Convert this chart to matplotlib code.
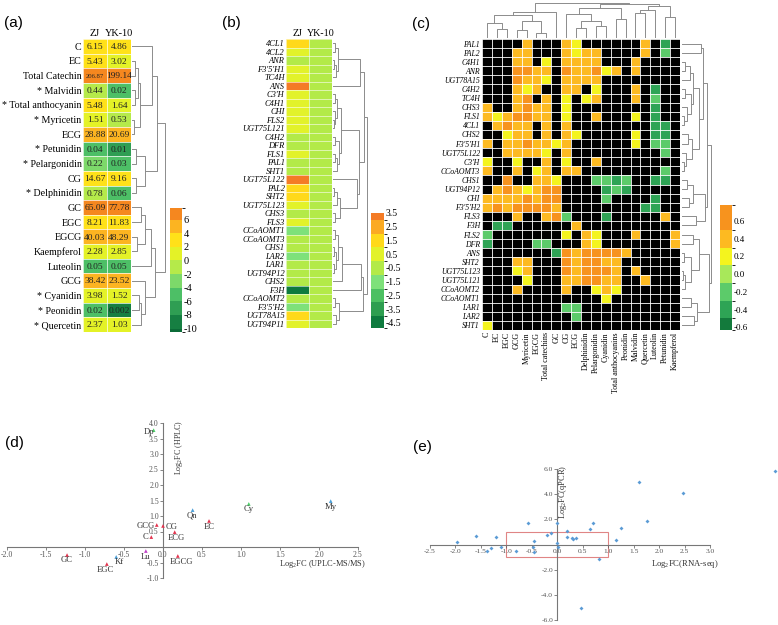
import numpy as np
import matplotlib
matplotlib.use('Agg')
import matplotlib.pyplot as plt
from matplotlib.colors import ListedColormap, BoundaryNorm
from matplotlib.cm import ScalarMappable
from matplotlib.patches import Rectangle

W, H = 778, 625
plt.rcParams['font.family'] = ['Liberation Serif', 'DejaVu Serif']
plt.rcParams['mathtext.fontset'] = 'custom'
plt.rcParams['mathtext.rm'] = 'Liberation Serif'
plt.rcParams['mathtext.it'] = 'Liberation Serif:italic'
plt.rcParams['axes.unicode_minus'] = False

# ---------------- data: panel (a)
a_rows = ['C', 'EC', 'Total Catechin', '* Malvidin', '* Total anthocyanin', '* Myricetin', 'ECG',
          '* Petunidin', '* Pelargonidin', 'CG', '* Delphinidin', 'GC', 'EGC', 'EGCG', 'Kaempferol',
          'Luteolin', 'GCG', '* Cyanidin', '* Peonidin', '* Quercetin']
a_cols = ['ZJ', 'YK-10']
a_zj = [6.15, 5.43, 206.87, 0.44, 5.48, 1.51, 28.88, 0.04, 0.22, 14.67, 0.78, 65.09, 8.21, 40.03,
        2.28, 0.05, 38.42, 3.98, 0.02, 2.37]
a_yk = [4.86, 3.02, 199.14, 0.02, 1.64, 0.53, 20.69, 0.01, 0.03, 9.16, 0.06, 77.78, 11.83, 48.29,
        2.85, 0.05, 23.52, 1.52, 0.002, 1.03]
a_bounds = [-10.5, -10, -8, -6, -4, -2, 0, 2, 4, 6, 7.7]
a_colors = ['#0B6B37', '#167F42', '#2F9E53', '#4DBF66', '#7DD96A', '#B5EA4A', '#E4F227',
            '#FFE119', '#FCB421', '#F5871F']
a_ticks = [6, 4, 2, 0, -2, -4, -6, -8, -10]
tree_a = (34,
          (26, (21, 0, (9, (7, (4, 1, 2), (4, 3, 4)), (3, 5, 6))), (14, (5, 7, 8), (5, 9, 10))),
          (24, (20, (14, (10, 11, 12), (6, 13, 14)), 15), (14, 16, (10, (8, 17, 18), 19))))

# ---------------- data: panel (b)
b_rows = ['4CL1', '4CL2', 'ANR', "F3'5'H1", 'TC4H', 'ANS', "C3'H", 'C4H1', 'CHI', 'FLS2', 'UGT75L121',
          'C4H2', 'DFR', 'FLS1', 'PAL1', 'SHT1', 'UGT75L122', 'PAL2', 'SHT2', 'UGT75L123', 'CHS3', 'FLS3',
          'CCoAOMT1', 'CCoAOMT3', 'CHS1', 'LAR2', 'LAR1', 'UGT94P12', 'CHS2', 'F3H', 'CCoAOMT2',
          "F3'5'H2", 'UGT78A15', 'UGT94P11']
b_cols = ['ZJ', 'YK-10']
b_zj = [1.5, 0.5, -0.5, 0.7, 0.5, 3.3, 0.8, 0.5, 0.6, 0.5, 0.6, -0.3, -0.3, 0.6, -0.2, -0.2, 3.3,
        1.5, 1.5, 0.6, -0.3, 0.6, -1.5, -0.4, -0.4, -1.5, -0.5, -0.4, -0.4, -4.5, -0.5, -1.5, 1.5, 0.5]
b_yk = [-0.4] * 34
b_bounds = [-4.87, -4, -3, -2, -1, 0, 1, 2, 3, 3.5]
b_colors = ['#0E7A3E', '#2E9E50', '#4CC062', '#7EE17A', '#B3EA48', '#E2F22A', '#FFD91A',
            '#FBAA22', '#F47B26']
b_ticks = [3.5, 2.5, 1.5, 0.5, -0.5, -1.5, -2.5, -3.5, -4.5]
tree_b = (34,
          (31, (27, (6, (3, 0, 1), (4, (2, 2, 3), 4)), 5),
           (26, (9, (5, (3, 6, 7), (3, 8, (2, 9, 10))), (7, (3, 11, 12), (5, (3, 13, 14), 15))),
            (24, 16, (8, (5, (2, 17, 18), 19), (3, 20, 21))))),
          (30, (28, (10, (6, (3, 22, 23), (4, (2, 24, 25), (2, 26, 27))), 28), 29),
           (7, (3, 30, 31), (4, 32, 33))))

# ---------------- data: panel (c)  (K = not significant / black)
c_rows = ['PAL1', 'PAL2', 'C4H1', 'ANR', 'UGT78A15', 'C4H2', 'TC4H', 'CHS3', 'FLS1', '4CL1', 'CHS2',
          "F3'5'H1", 'UGT75L122', "C3'H", 'CCoAOMT3', 'CHS1', 'UGT94P12', 'CHI', "F3'5'H2", 'FLS3', 'F3H',
          'FLS2', 'DFR', 'ANS', 'SHT2', 'UGT75L123', 'UGT75L121', 'CCoAOMT2', 'CCoAOMT1', 'LAR1', 'LAR2',
          'SHT1']
c_cols = ['C', 'EC', 'EGC', 'GCG', 'Myricetin', 'EGCG', 'Total catechins', 'GC', 'CG', 'ECG',
          'Delphinidin', 'Pelargonidin', 'Cyanidin', 'Total anthocyanins', 'Peonidin', 'Malvidin',
          'Quercetin', 'Luteolin', 'Petunidin', 'Kaempferol']
c_levels = {'K': np.nan, 'O': 0.65, 'o': 0.4, 'y': 0.2, 'g': -0.2, 'G': -0.4, 'D': -0.6}
c_codes = ["KKKKoKKKoyKKKKKKoKGK", "KKKooKKKoyooKKKKoKgK", "KKKooKyKooooKKKoKKKK",
           "KKKOOooKOooOyoKoKKKK", "KKKOooyKooooKKKKKKKK", "KKKoyoKKooKyKKKoKGKK",
           "KKKoOKoKyKyoKKKoKgKK", "oKKoOooKyKKKKKKKKGKK", "oyoOOooKyKKoKKKyKGKK",
           "KoOooKoKoKKKKKKKKGGK", "KKyooKoKoyKKKKKyKGGK", "oKooOooyoKKKKKKyKggK",
           "KKooooyKoKKKKKKKKKgK", "yKKyKKoKyKKoKKKKKKKK", "oKKoKyoKooKKKKKKKKgK",
           "KKOKKooyKKKggGgKKGGK", "KoOoyoOOKKKKGgGKKKKK", "ooooOoOOKKKKgKKKKGKK",
           "oOoOOOOoKKKKKKKKGGKK", "KKKoKKoOgKKKGKKKKKoK", "KGGKKKKKKoKKKKKKKKKK",
           "gKKKKKKKyKoyKKKoKKKo", "GKKKKggKKKoyKKKKKKKo", "KKKKKKKGOoOOOOoKKKKK",
           "KKKooKKKOoOOooKKKKKK", "KKKyoKKKOoOOOoKoKKKK", "KKKKyKKKooOOooKKoKKK",
           "KKKoKKKKoKKyoyKKKKKK", "KKKKKKKKKKKKyKKKKKKK", "KKKKKKKKggKKKKKKKKKK",
           "KKKKKKKKKgKKKKKKKKKK", "yKKKKKKKKKKKKKKKKKKK"]
c_bounds = [-0.63, -0.5, -0.3, -0.1, 0.1, 0.3, 0.5, 0.78]
c_colors = ['#137A3C', '#2EA455', '#5CCB6A', '#A8E85A', '#F4F41E', '#FDBA21', '#F7931E']
c_ticks = [0.6, 0.4, 0.2, 0.0, -0.2, -0.4, -0.6]
tree_c_cols = (36, (27, (24, (15, 0, (9, 1, 2)), (17, (8, 3, 4), (5, 5, 6))), 7),
               (35, (31, (25, 8, (17, (10, 9, 10), (12, 11, 12))), (20, 13, 14)),
                (33, (29, (26, 15, 16), 17), (22, 18, 19))))
tree_c_rows = (30,
               (26, (22, (20, 0, 1), (18, (12, (9, (4, 2, 3), 4), (10, (4, 5, 6), (6, 7, (3, 8, 9)))),
                                      (11, (7, 10, 11), (5, 12, (3, 13, 14))))),
                (24, (12, (6, 15, 16), (8, 17, 18)), (15, 19, 20))),
               (28, (18, (12, 21, 22), (10, (3, 23, 24), (4, (2, 25, 26), 27))),
                (16, (10, 28, 29), (13, 30, 31))))

# ---------------- data: panel (d)
d_labels = ['Dp', 'My', 'Cy', 'Qn', 'EC', 'GCG', 'CG', 'ECG', 'C', 'EGCG', 'Lu', 'Kf', 'EGC', 'GC']
d_x = [-0.12, 2.15, 1.10, 0.38, 0.59, -0.08, 0.0, 0.15, -0.15, 0.19, -0.22, -0.60, -0.72, -1.23]
d_y = [3.77, 1.48, 1.39, 1.19, 0.84, 0.71, 0.68, 0.48, 0.32, -0.29, -0.13, -0.32, -0.55, -0.26]
d_group = ['anth', 'flav', 'anth', 'flav', 'cat', 'cat', 'cat', 'cat', 'cat', 'cat', 'lut', 'flav',
           'cat', 'cat']
d_group_color = {'anth': '#4CD068', 'flav': '#4A9FD8', 'cat': '#E3334E', 'lut': '#C040C8'}
d_label_off = [(-5, 2), (0, 6), (0, 5), (-1, 5), (0, 6), (-11, 1), (9, 1), (2, 6), (-6, 0),
               (4, 6), (0, 6), (3, 5), (-1, 6), (0, 5)]

# ---------------- data: panel (e)
e_x = [-1.96, -1.60, -1.38, -1.30, -1.20, -1.11, -0.81, -0.58, -0.45, -0.45, -0.48, -0.20, -0.12,
       0.0, 0.0, 0.01, 0.20, 0.20, 0.29, 0.31, 0.37, 0.65, 0.70, 0.81, 1.16, 1.26, 1.60, 1.76, 2.47,
       0.47, 4.28]
e_y = [0.18, 0.71, -0.53, -0.29, 0.58, -0.21, -0.53, 1.69, -0.61, 0.26, -0.21, 0.77, 0.90, 1.69,
       0.10, -0.21, 1.06, 0.63, 0.50, 0.45, 0.53, 1.24, 1.69, -1.14, 0.32, 1.29, 4.94, 1.90, 4.13,
       -5.02, 5.87]

# ======================================================================
fig = plt.figure(figsize=(W / 100, H / 100), dpi=100)
fig.patch.set_facecolor('white')


def pax(x0, y0, x1, y1):
    return fig.add_axes([x0 / W, 1 - y1 / H, (x1 - x0) / W, (y1 - y0) / H])


def ftext(px, py, s, **kw):
    fig.text(px / W, 1 - py / H, s, **kw)


def draw_dendro(ax, node, orient, color='#8c8c8c', lw=0.7, base=1.0):
    def rec(n):
        if isinstance(n, int):
            return n + 0.5, base
        h, l, r = n
        pl, hl = rec(l)
        pr, hr = rec(r)
        if orient == 'right':
            ax.plot([hl, h, h, hr], [pl, pl, pr, pr], color=color, lw=lw)
        else:
            ax.plot([pl, pl, pr, pr], [hl, h, h, hr], color=color, lw=lw)
        return (pl + pr) / 2, h
    rec(node)
    ax.axis('off')


def make_cbar(cax, bounds, colors, ticks, fs, fmt):
    cmap = ListedColormap(colors)
    norm = BoundaryNorm(bounds, cmap.N)
    cb = fig.colorbar(ScalarMappable(norm=norm, cmap=cmap), cax=cax, boundaries=bounds,
                      spacing='proportional', ticks=ticks)
    cb.outline.set_visible(False)
    cb.set_ticklabels([fmt(t) for t in ticks])
    cax.tick_params(length=0, labelsize=fs, pad=1)
    cax.set_ylim(bounds[0], bounds[-1])
    return cmap, norm


def grid_white(ax, nc, nr, lw=0.5):
    ax.set_xticks(np.arange(nc + 1), minor=True)
    ax.set_yticks(np.arange(nr + 1), minor=True)
    ax.grid(which='minor', color='white', lw=lw)
    ax.tick_params(which='minor', length=0)
    ax.set_axisbelow(False)
    for s in ax.spines.values():
        s.set_visible(False)


def cross_axes(ax, xt, yt, fs):
    for s in ['top', 'right']:
        ax.spines[s].set_visible(False)
    ax.spines['left'].set_position(('data', 0))
    ax.spines['bottom'].set_position(('data', 0))
    for s in ['left', 'bottom']:
        ax.spines[s].set_color('#777777')
        ax.spines[s].set_linewidth(0.8)
    ax.set_xticks(xt, [f'{v:.1f}' for v in xt])
    ax.set_yticks(yt, [f'{v:.1f}' for v in yt])
    ax.tick_params(labelsize=fs, length=2, width=0.5, pad=1, colors='#555555')
    ax.set_facecolor('none')


# ---------------- panel (a)
ftext(4, 23, '(a)', fontsize=11, family='Liberation Sans', va='center')
cmap_a, norm_a = make_cbar(pax(170, 208, 182, 332), a_bounds, a_colors, a_ticks, 7.5,
                           lambda t: f'{t:d}')
ax = pax(83, 39, 131, 332)
vals_a = np.column_stack([a_zj, a_yk])
ax.pcolormesh(np.arange(3), np.arange(len(a_rows) + 1), np.log2(vals_a), cmap=cmap_a, norm=norm_a)
ax.set_xlim(0, 2)
ax.set_ylim(len(a_rows), 0)
grid_white(ax, 2, len(a_rows))
for i in range(len(a_rows)):
    for j in range(2):
        v = vals_a[i, j]
        ax.text(j + 0.5, i + 0.55, str(v), ha='center', va='center',
                fontsize=4.8 if v > 200 else 6.8, color='#222222')
ax.set_yticks(np.arange(len(a_rows)) + 0.5, a_rows, fontsize=7.2)
ax.xaxis.tick_top()
ax.set_xticks([0.5, 1.5], a_cols, fontsize=7.4)
ax.tick_params(length=0, pad=1)
axd = pax(131, 39, 166, 332)
draw_dendro(axd, tree_a, 'right')
axd.set_ylim(len(a_rows), 0)
axd.set_xlim(0, 35)

# ---------------- panel (b)
ftext(222, 23, '(b)', fontsize=11, family='Liberation Sans', va='center')
cmap_b, norm_b = make_cbar(pax(371, 213, 384, 328), b_bounds, b_colors, b_ticks, 7,
                           lambda t: f'{t:.1f}')
ax = pax(286, 39, 332, 328)
vals_b = np.column_stack([b_zj, b_yk])
ax.pcolormesh(np.arange(3), np.arange(len(b_rows) + 1), vals_b, cmap=cmap_b, norm=norm_b)
ax.set_xlim(0, 2)
ax.set_ylim(len(b_rows), 0)
grid_white(ax, 2, len(b_rows), lw=0.4)
ax.set_yticks(np.arange(len(b_rows)) + 0.5, b_rows, fontsize=6, fontstyle='italic')
ax.xaxis.tick_top()
ax.set_xticks([0.5, 1.5], b_cols, fontsize=7.2)
ax.tick_params(length=0, pad=1)
axd = pax(332, 39, 368, 328)
draw_dendro(axd, tree_b, 'right')
axd.set_ylim(len(b_rows), 0)
axd.set_xlim(0, 35)

# ---------------- panel (c)
ftext(412, 24, '(c)', fontsize=11, family='Liberation Sans', va='center')
cmap_c, norm_c = make_cbar(pax(720, 205, 732, 330), c_bounds, c_colors, c_ticks, 6.5,
                           lambda t: f'{t:.1f}')
vals_c = np.array([[c_levels[ch] for ch in row[:20].ljust(20, 'K')] for row in c_codes])
ax = pax(482, 39, 680, 330)
ax.set_facecolor('black')
ax.pcolormesh(np.arange(len(c_cols) + 1), np.arange(len(c_rows) + 1),
              np.ma.masked_invalid(vals_c), cmap=cmap_c, norm=norm_c)
ax.set_xlim(0, len(c_cols))
ax.set_ylim(len(c_rows), 0)
grid_white(ax, len(c_cols), len(c_rows), lw=0.6)
ax.set_yticks(np.arange(len(c_rows)) + 0.5, c_rows, fontsize=5.6, fontstyle='italic')
ax.set_xticks(np.arange(len(c_cols)) + 0.5, c_cols, fontsize=5.8, rotation=90)
ax.tick_params(length=0, pad=1.5)
axd = pax(482, 2, 680, 38)
draw_dendro(axd, tree_c_cols, 'top')
axd.set_xlim(0, len(c_cols))
axd.set_ylim(0, 37)
axd = pax(681, 39, 712, 330)
draw_dendro(axd, tree_c_rows, 'right')
axd.set_ylim(len(c_rows), 0)
axd.set_xlim(0, 31)

# ---------------- panel (d)
ftext(5, 443, '(d)', fontsize=11, family='Liberation Sans', va='center')
ax = pax(7, 423, 358, 578)
ax.set_xlim(-2.0, 2.5)
ax.set_ylim(-1.0, 4.0)
cross_axes(ax, np.arange(-2.0, 2.51, 0.5), [-1.0, -0.5, 0.5, 1.0, 1.5, 2.0, 2.5, 3.0, 3.5, 4.0], 5.6)
ax.scatter(d_x, d_y, c=[d_group_color[g] for g in d_group], marker='^', s=7, lw=0,
           zorder=3, clip_on=False)
for lab, x, y, (dx, dy) in zip(d_labels, d_x, d_y, d_label_off):
    ax.annotate(lab, (x, y), xytext=(dx / 1.389, -dy / 1.389), textcoords='offset points',
                ha='center', va='center', fontsize=6.2, color='#333333')
ftext(179, 447, 'Log$_2$FC (HPLC)', fontsize=5.8, rotation=90, ha='center', va='center',
      color='#333333')
ftext(322, 564, 'Log$_2$FC (UPLC-MS/MS)', fontsize=6, ha='center', va='center', color='#333333')

# ---------------- panel (e)
ftext(413, 447, '(e)', fontsize=11, family='Liberation Sans', va='center')
ax = pax(430, 469, 710, 620)
ax.set_xlim(-2.5, 3.0)
ax.set_ylim(-6.0, 6.0)
cross_axes(ax, np.arange(-2.5, 3.01, 0.5), [-6.0, -4.0, -2.0, 2.0, 4.0, 6.0], 5.4)
ax.add_patch(Rectangle((-1, -1), 2, 2, fill=False, edgecolor='#E08585', lw=0.8))
ax.scatter(e_x, e_y, color='#5B9BD5', s=4, marker='D', lw=0, zorder=3, clip_on=False)
ftext(563, 492, 'Log$_2$FC(qPCR)', fontsize=6, rotation=90, ha='center', va='center',
      color='#333333')
ftext(685, 564, 'Log$_2$FC(RNA-seq)', fontsize=6.2, ha='center', va='center', color='#333333')

fig.savefig('out.png', dpi=100, facecolor='white')
